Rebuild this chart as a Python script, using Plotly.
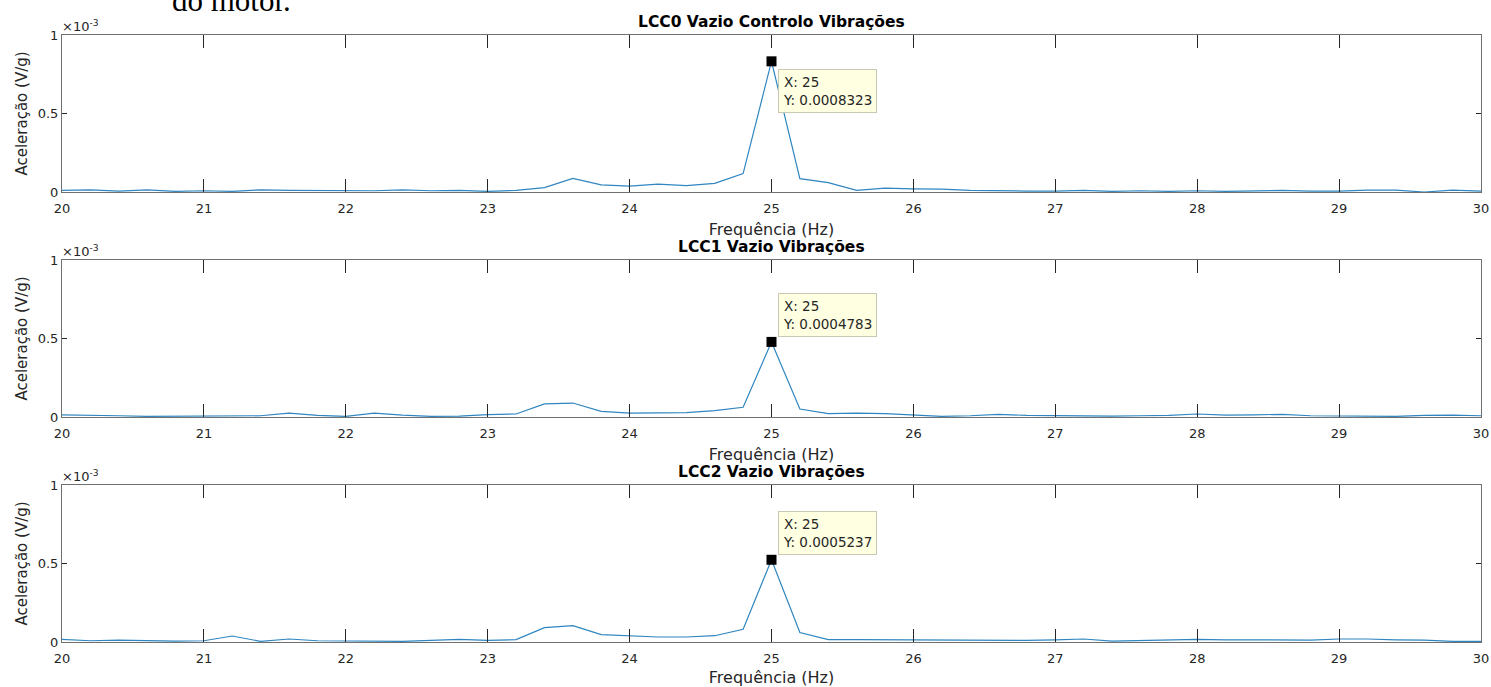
import plotly.graph_objects as go

# Frequency axis (Hz), 0.2 Hz resolution
freq = [round(20 + 0.2 * i, 1) for i in range(51)]

# Acceleration spectra (x 1e-3 V/g)
lcc0 = [0.010, 0.014, 0.006, 0.014, 0.004, 0.008, 0.004, 0.014, 0.010, 0.010,
        0.010, 0.008, 0.014, 0.008, 0.010, 0.004, 0.010, 0.028, 0.087, 0.045,
        0.038, 0.050, 0.040, 0.055, 0.117, 0.8323, 0.085, 0.060, 0.010, 0.025,
        0.020, 0.018, 0.010, 0.006, 0.006, 0.006, 0.010, 0.004, 0.008, 0.004,
        0.008, 0.004, 0.008, 0.010, 0.006, 0.006, 0.012, 0.012, 0.000, 0.012,
        0.006]
lcc1 = [0.013, 0.012, 0.008, 0.004, 0.006, 0.008, 0.006, 0.008, 0.025, 0.010,
        0.004, 0.025, 0.012, 0.004, 0.006, 0.015, 0.019, 0.083, 0.089, 0.036,
        0.025, 0.026, 0.028, 0.040, 0.062, 0.4783, 0.051, 0.021, 0.025, 0.021,
        0.013, 0.004, 0.008, 0.017, 0.010, 0.008, 0.008, 0.006, 0.008, 0.010,
        0.019, 0.012, 0.014, 0.017, 0.008, 0.008, 0.006, 0.004, 0.010, 0.012,
        0.008]
lcc2 = [0.017, 0.008, 0.012, 0.008, 0.006, 0.008, 0.038, 0.004, 0.019, 0.008,
        0.008, 0.004, 0.004, 0.010, 0.017, 0.010, 0.015, 0.091, 0.104, 0.047,
        0.038, 0.032, 0.032, 0.040, 0.081, 0.5237, 0.060, 0.015, 0.015, 0.014,
        0.014, 0.012, 0.012, 0.012, 0.010, 0.014, 0.019, 0.006, 0.010, 0.014,
        0.017, 0.014, 0.012, 0.010, 0.012, 0.019, 0.019, 0.014, 0.012, 0.004,
        0.004]
series = [[v * 1e-3 for v in s] for s in (lcc0, lcc1, lcc2)]

titles = ["LCC0 Vazio Controlo Vibrações", "LCC1 Vazio Vibrações", "LCC2 Vazio Vibrações"]
peak_x = 25
peak_y = [0.0008323, 0.0004783, 0.0005237]
x_ticks = list(range(20, 31))
y_tickvals = [0, 0.0005, 0.001]
y_ticktext = ["0", "0.5", "1"]

W, H = 1491, 687
ML, MR, MT, MB = 62, 10, 35, 45
plot_h = H - MT - MB
panels_px = [(35, 192), (260, 417), (485, 642)]
domains = [[(H - MB - b) / plot_h, (H - MB - t) / plot_h] for (t, b) in panels_px]

FONT = "DejaVu Sans, Liberation Sans, Arial, sans-serif"
AX = "#707070"
TXT = "#262626"
LINE = "#2f86c0"

fig = go.Figure()
for i in range(3):
    xa = "x" if i == 0 else f"x{i+1}"
    ya = "y" if i == 0 else f"y{i+1}"
    fig.add_trace(go.Scatter(x=freq, y=series[i], mode="lines",
                             line=dict(color=LINE, width=1.2),
                             xaxis=xa, yaxis=ya, showlegend=False, hoverinfo="skip"))
    fig.add_trace(go.Scatter(x=[peak_x], y=[peak_y[i]], mode="markers",
                             marker=dict(symbol="square", size=10, color="black"),
                             xaxis=xa, yaxis=ya, showlegend=False, cliponaxis=False))

layout = dict(width=W, height=H, margin=dict(l=ML, r=MR, t=MT, b=MB, autoexpand=False),
              paper_bgcolor="white", plot_bgcolor="white", showlegend=False,
              font=dict(family=FONT, color=TXT))
annotations = []
for i in range(3):
    suf = "" if i == 0 else str(i + 1)
    layout[f"xaxis{suf}"] = dict(
        domain=[0, 1], range=[20, 30], anchor=f"y{suf}", automargin=False,
        tickmode="array", tickvals=x_ticks, ticktext=[str(t) for t in x_ticks],
        ticks="inside", ticklen=13, tickwidth=1, tickcolor="#262626",
        showline=True, linecolor=AX, linewidth=1, mirror="ticks",
        showgrid=False, zeroline=False, ticklabelstandoff=4,
        tickfont=dict(size=13, color=TXT, family=FONT),
        title=dict(text="Frequência (Hz)", font=dict(size=16, color=TXT, family=FONT), standoff=9),
    )
    layout[f"yaxis{suf}"] = dict(
        domain=domains[i], range=[0, 0.001], anchor=f"x{suf}", automargin=False,
        tickmode="array", tickvals=y_tickvals, ticktext=y_ticktext,
        ticks="inside", ticklen=5, tickwidth=1, tickcolor="#262626",
        showline=True, linecolor=AX, linewidth=1, mirror="ticks",
        showgrid=False, zeroline=False,
        tickfont=dict(size=13, color=TXT, family=FONT),
        title=dict(text="Aceleração (V/g)", font=dict(size=15, color=TXT, family=FONT), standoff=6),
    )
    annotations.append(dict(text=f"<b>{titles[i]}</b>", xref="x" + suf + " domain", yref="y" + suf + " domain",
                            x=0.5, y=1, yanchor="bottom", xanchor="center", yshift=2, showarrow=False,
                            font=dict(size=15.5, color="#000000", family=FONT)))
    annotations.append(dict(text="×10<sup>-3</sup>", xref="x" + suf + " domain", yref="y" + suf + " domain",
                            x=0, y=1, xanchor="left", yanchor="bottom", xshift=-2, yshift=-1, showarrow=False,
                            font=dict(size=13, color=TXT, family=FONT)))
    tip = dict(text=f"X: {peak_x}<br>Y: {peak_y[i]:.7f}", xref="x" + suf, yref="y" + suf,
               x=peak_x, y=peak_y[i], xanchor="left", showarrow=False, align="left",
               bgcolor="#ffffe1", bordercolor="#c8c8b4", borderwidth=1, borderpad=4,
               font=dict(size=13.5, color=TXT, family=FONT), xshift=6)
    if i == 0:
        tip.update(yanchor="top", yshift=-8)
    else:
        tip.update(yanchor="bottom", yshift=5)
    annotations.append(tip)

annotations.append(dict(text="do motor.", xref="paper", yref="paper", x=0.076, y=1, yshift=MT,
                        xanchor="left", yanchor="middle", showarrow=False,
                        font=dict(size=31, color="#000000", family="Liberation Serif, Times New Roman, serif")))
layout["annotations"] = annotations
fig.update_layout(**layout)
fig.write_html("out.html")
